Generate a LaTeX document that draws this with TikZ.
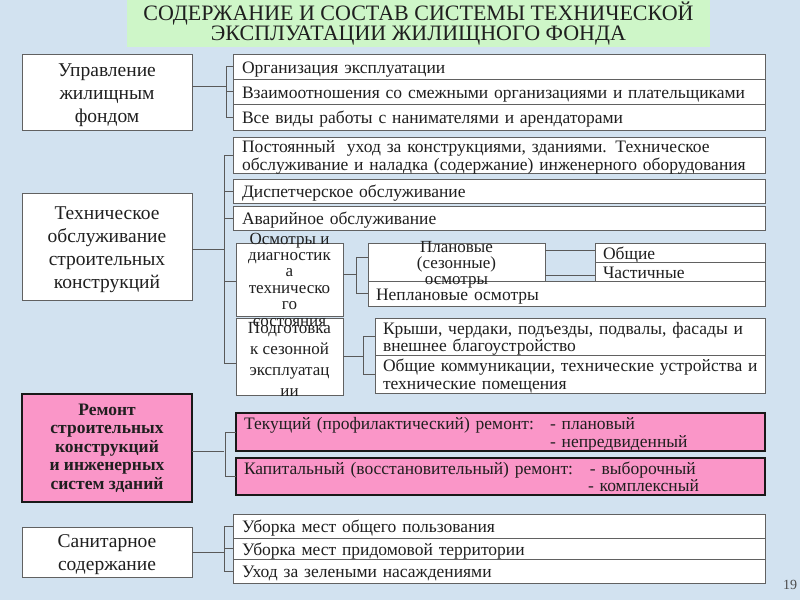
\documentclass[tikz,border=0pt]{standalone}
\usepackage{fontspec}
\setmainfont{Liberation Serif}
\definecolor{bgblue}{RGB}{210,226,240}
\definecolor{titlegreen}{RGB}{206,246,200}
\definecolor{pinkf}{RGB}{250,150,200}
\newcommand\wideline[1]{\makebox[374pt][l]{#1}}
\begin{document}
\begin{tikzpicture}[x=1pt,y=-1pt,
 every node/.style={inner sep=0pt, outer sep=0pt, text=black!88},
 box/.style={draw=black!62, line width=1pt, fill=white},
 pinkbox/.style={draw=black!90, line width=2pt, fill=pinkf},
 rtxt/.style={font=\fontsize{17.5}{17.5}\selectfont, align=left, text height=13.6pt, text depth=0pt},
 rtxttwo/.style={font=\fontsize{17.5}{17.5}\selectfont, align=left, text height=12pt, text depth=16.8pt},
 ltxt/.style={font=\fontsize{19.5}{23}\selectfont, align=center, execute at begin node={\rule{0pt}{18.5pt}}},
 conn/.style={draw=black!65, line width=0.9pt}]
\fill[bgblue] (0,0) rectangle (800,600);
\useasboundingbox (0,0) rectangle (800,600);
% title
\node[fill=titlegreen, minimum width=583pt, minimum height=47pt, align=center,
      font=\fontsize{22}{19.5}\selectfont] (title) at (418.5,23.5)
      {СОДЕРЖАНИЕ И СОСТАВ СИСТЕМЫ ТЕХНИЧЕСКОЙ\\ЭКСПЛУАТАЦИИ ЖИЛИЩНОГО ФОНДА};
% group 1
\node[box, ltxt, minimum width=170pt, minimum height=76pt, text width=160pt] (upr) at (107,92) {Управление\\жилищным\\фондом};
\node[box, rtxt, minimum width=532pt, minimum height=25pt, text width=514pt] (org) at (499,66.5) {Организация эксплуатации};
\node[box, rtxt, minimum width=532pt, minimum height=25pt, text width=514pt] (vz) at (499,91.5) {Взаимоотношения со смежными организациями и плательщиками};
\node[box, rtxt, minimum width=532pt, minimum height=26pt, text width=514pt] (vse) at (499,117) {Все виды работы с нанимателями и арендаторами};
\draw[conn] ([yshift=6pt]upr.east) -- ++(34,0);
\draw[conn] (org.west) -- ++(-7,0) |- (vse.west);
\draw[conn] (vz.west) -- ++(-7,0);
% group 2
\node[box, ltxt, minimum width=170pt, minimum height=107pt, text width=160pt] (tech) at (107,246.5) {Техническое\\обслуживание\\строительных\\конструкций};
\node[box, rtxttwo, minimum width=532pt, minimum height=36pt, text width=514pt] (post) at (499,155) {Постоянный\ \ уход за конструкциями, зданиями. Техническое\\обслуживание и наладка (содержание) инженерного оборудования};
\node[box, rtxt, minimum width=532pt, minimum height=24pt, text width=514pt] (disp) at (499,191) {Диспетчерское обслуживание};
\node[box, rtxt, minimum width=532pt, minimum height=24pt, text width=514pt] (avar) at (499,218) {Аварийное обслуживание};
\node[box, minimum width=107pt, minimum height=73pt] (osm) at (289.5,279.5) {};
\node[box, minimum width=107pt, minimum height=77pt] (podg) at (289.5,356.5) {};
\node[font=\fontsize{17}{16.4}\selectfont, align=center] (osmt) at (osm.center) {Осмотры и\\диагностик\\а\\техническо\\го\\состояния};
\node[font=\fontsize{17}{21}\selectfont, align=center] (podgt) at ([yshift=-2.5pt]podg.center) {Подготовка\\к сезонной\\эксплуатац\\ии};
\draw[conn] ([yshift=-2.5pt]tech.east) -- ++(32,0);
\coordinate (p2) at ([yshift=-6.5pt]podg.west);
\draw[conn] (post.west) -- ++(-9,0) |- (p2);
\draw[conn] (disp.west) -- ++(-9,0);
\draw[conn] (avar.west) -- ++(-9,0);
\draw[conn] ([yshift=-2pt]osm.west) -- ++(-12,0);
% osm subgroup
\node[box, minimum width=177pt, minimum height=38pt] (plan) at (456.5,262) {};
\node[box, rtxt, minimum width=397pt, minimum height=25pt, text width=381pt] (neplan) at (566.5,293.5) {Неплановые осмотры};
\node[font=\fontsize{17}{16}\selectfont, align=center] (plant) at ([yshift=-2.5pt]plan.center) {Плановые\\(сезонные)\\осмотры};
\node[box, rtxt, minimum width=170pt, minimum height=19pt, text width=154pt] (obsh) at (680,252.5) {Общие};
\node[box, rtxt, minimum width=170pt, minimum height=19pt, text width=154pt] (chast) at (680,271.5) {Частичные};
\draw[conn] ([yshift=5.5pt]osm.east) -- ++(13,0);
\coordinate (p3) at ([yshift=5pt]plan.west);
\draw[conn] (p3) -- ++(-12,0) |- (neplan.west);
\coordinate (p4) at ([yshift=2.5pt]obsh.west);
\coordinate (p5) at ([yshift=-3.5pt]chast.west);
\draw[conn] (p4 -| plan.east) -- (p4);
\draw[conn] (p5 -| plan.east) -- (p5);
% podg subgroup
\node[box, rtxttwo, minimum width=390pt, minimum height=37pt, text width=374pt] (krysh) at (570,336.5) {\wideline{Крыши, чердаки, подъезды, подвалы, фасады и}\\\wideline{внешнее благоустройство}};
\node[box, rtxttwo, minimum width=390pt, minimum height=38pt, text width=374pt] (obcom) at (570,374) {\wideline{Общие коммуникации, технические устройства и}\\\wideline{технические помещения}};
\draw[conn] (podg.east) -- ++(20,0);
\draw[conn] (krysh.west) -- ++(-12,0) |- (obcom.west);
% repair group
\node[pinkbox, minimum width=170pt, minimum height=108pt, align=center,
      font=\bfseries\fontsize{17.5}{18.5}\selectfont, execute at begin node={\rule{0pt}{16.5pt}}] (rem) at (107,448) {Ремонт\\строительных\\конструкций\\и инженерных\\систем зданий};
\node[pinkbox, rtxttwo, minimum width=529pt, minimum height=38pt, text width=513pt] (tek) at (500.5,432)
  {\makebox[306pt][l]{Текущий (профилактический) ремонт:}- плановый\\\hspace*{306pt}- непредвиденный};
\node[pinkbox, rtxttwo, minimum width=529pt, minimum height=37pt, text width=513pt] (kap) at (500.5,476.5)
  {\makebox[346pt][l]{Капитальный (восстановительный) ремонт:}- выборочный\\\hspace*{344pt}- комплексный};
\draw[conn] ([yshift=-3pt]rem.east) -- ++(32,0);
\draw[conn] (tek.west) -- ++(-11,0) |- (kap.west);
% sanitary group
\node[box, ltxt, minimum width=170pt, minimum height=50pt, text width=160pt] (san) at (107,552) {Санитарное\\содержание};
\node[box, rtxt, minimum width=532pt, minimum height=24pt, text width=514pt] (u1) at (499,526) {Уборка мест общего пользования};
\node[box, rtxt, minimum width=532pt, minimum height=21pt, text width=514pt] (u2) at (499,548.5) {Уборка мест придомовой территории};
\node[box, rtxt, minimum width=532pt, minimum height=24pt, text width=514pt] (u3) at (499,571) {Уход за зелеными насаждениями};
\draw[conn] (san.east) -- ++(32,0);
\draw[conn] (u1.west) -- ++(-9,0) |- (u3.west);
\draw[conn] (u2.west) -- ++(-9,0);
% page number
\node[font=\fontsize{14}{14}\selectfont, text=black!70] (pg) at (790,585) {19};
\end{tikzpicture}
\end{document}
